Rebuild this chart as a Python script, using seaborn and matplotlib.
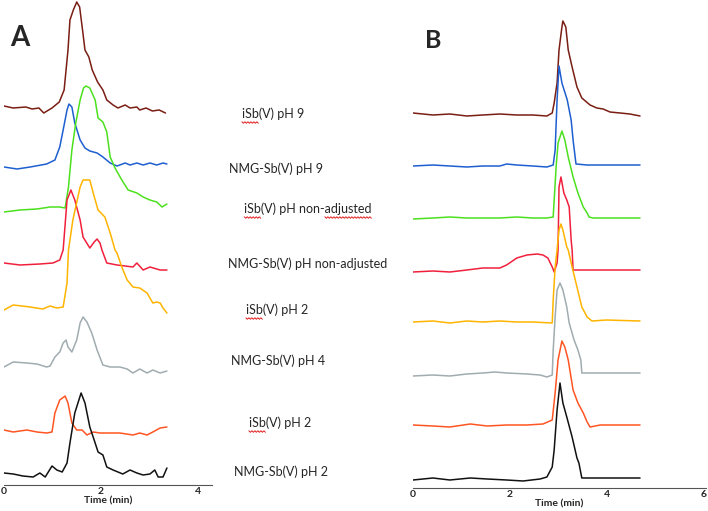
import pandas as pd
import seaborn as sns
import matplotlib.pyplot as plt

# panel A traces: time (min) and signal height above each trace's own baseline
a_brown_t = [0, 0.19, 0.45, 0.58, 0.72, 0.82, 0.99, 1.14, 1.24, 1.32, 1.36, 1.43, 1.5, 1.56, 1.62, 1.67, 1.75,
             1.82, 1.93, 2.04, 2.12, 2.25, 2.35, 2.5, 2.6, 2.74, 2.8, 2.93, 3.06, 3.2, 3.33]
a_brown_h = [4, 2, 3, 1, 2, -3, 2, 8, 20, 60, 90, 100, 108, 103, 80, 60, 53, 40, 28, 20, 10, 5, 2, 5, 2, 3, 0, 2,
             -1, 0, -3]
a_blue_t = [0, 0.27, 0.54, 0.88, 1.05, 1.15, 1.22, 1.3, 1.34, 1.4, 1.46, 1.57, 1.67, 1.77, 1.92, 2.04, 2.19, 2.33,
            2.5, 2.6, 2.74, 2.87, 3.01, 3.15, 3.28, 3.36]
a_blue_h = [-1, -3, -1, 2, 6, 19, 36, 56, 62, 59, 43, 26, 18, 15, 13, 9, 3, 0, 3, 1, 3, 1, 3, 1, 3, 2]
a_green_t = [0, 0.33, 0.68, 0.95, 1.15, 1.26, 1.33, 1.4, 1.48, 1.57, 1.64, 1.69, 1.77, 1.88, 1.94, 2.04, 2.12,
             2.19, 2.29, 2.43, 2.56, 2.74, 2.87, 3.01, 3.15, 3.26, 3.36]
a_green_h = [-1, 1, 2, 4, 4, 3, 24, 61, 88, 111, 123, 125, 123, 111, 93, 89, 79, 54, 43, 31, 21, 18, 14, 11, 9, 4, 7]
a_red_t = [0, 0.33, 0.74, 1.01, 1.15, 1.22, 1.3, 1.38, 1.46, 1.57, 1.63, 1.77, 1.86, 1.92, 1.98, 2.02, 2.12, 2.33,
           2.5, 2.66, 2.74, 2.87, 3.01, 3.22, 3.36]
a_red_h = [2, 0, 1, 2, 5, 15, 65, 75, 65, 45, 28, 17, 23, 26, 22, 15, 2, 0, -1, -2, 2, -5, -2, -5, -5]
a_orange_t = [0, 0.19, 0.54, 0.8, 0.95, 1.09, 1.22, 1.3, 1.33, 1.42, 1.57, 1.63, 1.77, 1.84, 1.94, 2.08, 2.19,
              2.29, 2.33, 2.43, 2.54, 2.66, 2.8, 2.95, 3.07, 3.15, 3.22, 3.28, 3.36]
a_orange_h = [-2, 3, 1, -1, 2, 0, 1, 25, 58, 88, 121, 128, 128, 115, 98, 91, 75, 58, 55, 41, 28, 21, 20, 15, 5, 6,
              5, 0, -5]
a_grey_t = [0, 0.19, 0.47, 0.68, 0.88, 0.95, 1.05, 1.15, 1.22, 1.28, 1.32, 1.4, 1.5, 1.57, 1.63, 1.71, 1.81, 1.92,
            2.04, 2.19, 2.39, 2.54, 2.66, 2.8, 2.95, 3.07, 3.22, 3.36]
a_grey_h = [0, 5, 4, 3, 0, 1, 10, 15, 24, 27, 20, 15, 27, 44, 50, 45, 34, 17, 2, 0, 0, -2, -6, -2, -6, -3, -6, -4]
a_coral_t = [0, 0.19, 0.47, 0.68, 0.88, 0.99, 1.05, 1.15, 1.26, 1.32, 1.4, 1.5, 1.61, 1.71, 1.84, 1.98, 2.19,
             2.39, 2.66, 2.8, 2.95, 3.07, 3.22, 3.36]
a_coral_h = [0, -2, 0, -2, -3, -2, 17, 30, 34, 27, 7, 0, 0, -5, -2, -3, -3, -3, -5, -3, -5, -2, 2, 3]
a_black_t = [0, 0.19, 0.39, 0.6, 0.74, 0.85, 0.99, 1.09, 1.2, 1.3, 1.36, 1.46, 1.59, 1.67, 1.77, 1.88, 1.94, 2.04,
             2.12, 2.25, 2.45, 2.6, 2.74, 2.87, 3.01, 3.11, 3.18, 3.28, 3.36]
a_black_h = [0, -1, -3, -4, 0, -4, 7, 3, 1, 10, 30, 60, 80, 70, 46, 30, 21, 18, 6, 3, -1, 3, 0, -2, -1, 3, -4, -4, 5]

# panel B traces
b_brown_t = [0, 0.41, 0.76, 1.11, 1.44, 1.79, 2.14, 2.47, 2.76, 2.87, 2.91, 2.97, 3.01, 3.07, 3.09, 3.15, 3.2,
             3.28, 3.38, 3.48, 3.65, 3.79, 3.92, 4.06, 4.27, 4.47, 4.68]
b_brown_h = [1, -1, 0, -2, -1, 0, -1, -1, -2, 1, 11, 31, 64, 87, 93, 87, 64, 47, 27, 16, 9, 6, 5, 2, 1, 0, -2]
b_blue_t = [0, 0.41, 0.76, 1.11, 1.44, 1.79, 1.93, 2.14, 2.47, 2.76, 2.89, 2.93, 2.97, 3.01, 3.07, 3.18, 3.26,
            3.3, 3.36, 3.59, 4.68]
b_blue_h = [0, 1, 0, -1, 0, 0, 2, 1, 0, -1, 1, 16, 66, 100, 83, 66, 46, 26, 2, 1, 1]
b_green_t = [0, 0.41, 0.76, 1.11, 1.44, 1.79, 2.14, 2.47, 2.76, 2.89, 2.91, 2.95, 2.99, 3.07, 3.13, 3.2, 3.3,
             3.4, 3.51, 3.55, 3.59, 3.63, 3.71, 4.68]
b_green_h = [-1, 0, 1, 0, 0, 0, 1, 0, 0, 1, 18, 51, 75, 87, 78, 61, 41, 25, 11, 8, 5, 1, 0, 0]
b_red_t = [0, 0.41, 0.76, 1.11, 1.44, 1.79, 1.93, 2.14, 2.35, 2.56, 2.68, 2.78, 2.87, 2.91, 2.97, 2.99, 3.01,
           3.05, 3.11, 3.17, 3.22, 3.26, 3.28, 3.3, 4.68]
b_red_h = [-1, 0, -1, 1, 3, 3, 6, 13, 16, 17, 16, 13, 4, -1, 8, 21, 84, 94, 78, 71, 64, 31, 21, 1, 1]
b_orange_t = [0, 0.41, 0.76, 1.11, 1.44, 1.79, 2.14, 2.47, 2.87, 2.89, 2.93, 2.97, 3.01, 3.05, 3.09, 3.17, 3.2,
              3.28, 3.38, 3.48, 3.59, 3.69, 3.99, 4.68]
b_orange_h = [-1, 0, -2, 0, -1, 0, -1, -1, -2, 21, 54, 71, 91, 97, 91, 74, 71, 54, 34, 14, 4, 0, 1, 0]
b_grey_t = [0, 0.41, 0.76, 1.11, 1.44, 1.69, 1.93, 2.35, 2.62, 2.76, 2.87, 2.89, 2.93, 2.97, 3.03, 3.09, 3.17,
            3.22, 3.32, 3.4, 3.46, 3.48, 3.59, 4.68]
b_grey_h = [-1, 0, -1, 1, 2, 3, 2, 1, 0, -2, 0, 25, 58, 85, 92, 85, 68, 52, 35, 25, 15, 2, 2, 2]
b_coral_t = [0, 0.41, 0.76, 1.18, 1.53, 1.93, 2.35, 2.68, 2.87, 2.93, 2.99, 3.07, 3.13, 3.2, 3.3, 3.4, 3.51,
             3.59, 3.65, 3.86, 4.68]
b_coral_h = [0, -1, -2, 1, -1, 0, 0, 1, 5, 32, 65, 84, 78, 65, 35, 22, 12, 3, -2, 0, 0]
b_black_t = [0, 0.41, 0.76, 1.18, 1.53, 1.93, 2.27, 2.62, 2.76, 2.87, 2.91, 2.97, 3.03, 3.09, 3.17, 3.28, 3.38,
             3.42, 3.48, 3.86, 4.68]
b_black_h = [-2, 0, -2, 0, -1, -2, -3, -1, 1, 11, 28, 68, 95, 75, 61, 41, 20, 15, 0, 0, 0]

trace_names = ["brown", "blue", "green", "red", "orange", "grey", "coral", "black"]
colors = ["#7a1e14", "#1e5fd0", "#4ce01e", "#f0203c", "#ffb400", "#a0acb0", "#ff5522", "#111111"]
offsets_a = [375, 319, 274, 220, 177, 118, 55, 12]
offsets_b = [374, 322, 270, 217, 167, 113, 63, 10]

labels = ["iSb(V) pH 9", "NMG-Sb(V) pH 9", "iSb(V) pH non-adjusted", "NMG-Sb(V) pH non-adjusted",
          "iSb(V) pH 2", "NMG-Sb(V) pH 4", "iSb(V) pH 2", "NMG-Sb(V) pH 2"]
label_x = [273, 276, 308, 308, 277, 278, 280, 281]
label_y = [114, 169, 209, 264, 310, 361, 423, 472]

a_t = [a_brown_t, a_blue_t, a_green_t, a_red_t, a_orange_t, a_grey_t, a_coral_t, a_black_t]
a_h = [a_brown_h, a_blue_h, a_green_h, a_red_h, a_orange_h, a_grey_h, a_coral_h, a_black_h]
b_t = [b_brown_t, b_blue_t, b_green_t, b_red_t, b_orange_t, b_grey_t, b_coral_t, b_black_t]
b_h = [b_brown_h, b_blue_h, b_green_h, b_red_h, b_orange_h, b_grey_h, b_coral_h, b_black_h]


def build_df(ts, hs, offsets):
    rows = []
    for name, t, h, off in zip(trace_names, ts, hs, offsets):
        for ti, hi in zip(t, h):
            rows.append({"trace": name, "time": ti, "signal": hi + off})
    return pd.DataFrame(rows)


df_a = build_df(a_t, a_h, offsets_a)
df_b = build_df(b_t, b_h, offsets_b)

sns.set_style("white")
plt.rcParams["font.family"] = ["Lato", "DejaVu Sans"]

W, H = 708, 511
fig = plt.figure(figsize=(W / 100, H / 100), dpi=100)
ax_a = fig.add_axes([4 / W, 1 - 485 / H, 208 / W, 485 / H])
ax_b = fig.add_axes([413 / W, 1 - 488 / H, 293 / W, 488 / H])

palette = dict(zip(trace_names, colors))
for ax, df, xmax, ticks, ytop in [(ax_a, df_a, 4.29, [0, 2, 4], 485), (ax_b, df_b, 6.04, [0, 2, 4, 6], 488)]:
    sns.lineplot(data=df, x="time", y="signal", hue="trace", palette=palette, estimator=None, sort=False,
                 linewidth=1.1, legend=False, ax=ax)
    ax.set_xlim(0, xmax)
    ax.set_ylim(0, ytop)
    ax.set_yticks([])
    ax.set_xticks(ticks)
    ax.set_xticklabels([str(t) for t in ticks], fontsize=7.5, fontweight="bold")
    ax.tick_params(axis="x", length=0, pad=1.5)
    ax.set_xlabel("Time (min)", fontsize=7.5, fontweight="bold", labelpad=0)
    ax.set_ylabel("")
    for s in ["top", "right", "left"]:
        ax.spines[s].set_visible(False)
    ax.spines["bottom"].set_color("#555555")
    ax.spines["bottom"].set_linewidth(0.8)
    ax.patch.set_alpha(0)

fig.text(20 / W, 1 - 38 / H, "A", fontsize=20, fontweight="bold", ha="center", va="center")
fig.text(433 / W, 1 - 41 / H, "B", fontsize=18, fontweight="bold", ha="center", va="center")

texts = []
for lab, x, y in zip(labels, label_x, label_y):
    texts.append(fig.text(x / W, 1 - y / H, lab, fontsize=9, ha="center", va="center"))

# red spell-check squiggles under "iSb" and "adjusted"
fig.canvas.draw()
renderer = fig.canvas.get_renderer()
for txt in texts:
    s = txt.get_text()
    bb = txt.get_window_extent(renderer)
    prop = txt.get_fontproperties()
    marks = []
    if s.startswith("iSb"):
        marks.append((0, 3))
    if "adjusted" in s and s.startswith("iSb"):
        i = s.index("adjusted")
        marks.append((i, i + 8))
    for i0, i1 in marks:
        w0 = renderer.get_text_width_height_descent(s[:i0], prop, ismath=False)[0] if i0 else 0
        w1 = renderer.get_text_width_height_descent(s[:i1], prop, ismath=False)[0]
        xs, ys = [], []
        x = bb.x0 + w0
        k = 0
        while x <= bb.x0 + w1:
            xs.append(x / W)
            ys.append((bb.y0 - 1.5 - (k % 2) * 1.5) / H)
            x += 1.5
            k += 1
        fig.add_artist(plt.Line2D(xs, ys, color="#e02020", linewidth=0.7, transform=fig.transFigure))

fig.savefig("out.png", dpi=100)
